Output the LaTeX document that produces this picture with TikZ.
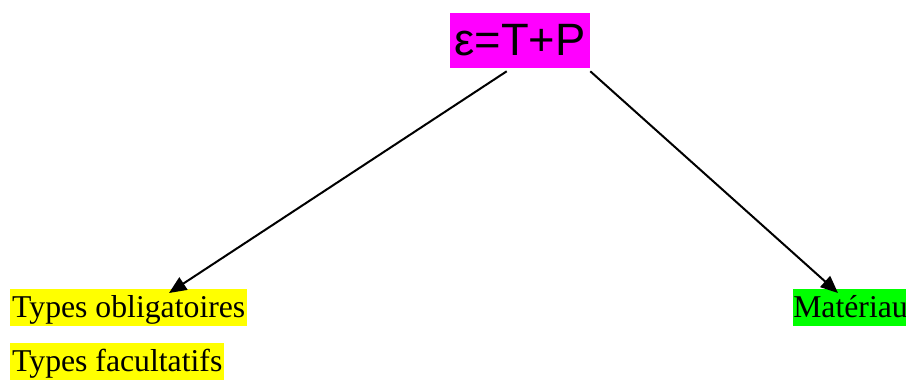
\documentclass[tikz,border=0pt]{standalone}
\usepackage{fontspec}
\setmainfont{Liberation Serif}
\newfontfamily\formulafont{Liberation Sans}
\usetikzlibrary{arrows.meta,calc}

\definecolor{hlmagenta}{RGB}{255,0,255}
\definecolor{hlyellow}{RGB}{255,255,0}
\definecolor{hlgreen}{RGB}{0,255,0}

\tikzset{
  formula/.style={fill=hlmagenta, inner sep=0pt, minimum width=140*0.75pt,
    text height=31.5pt, text depth=9.75pt,
    font=\formulafont\fontsize{34}{40}\selectfont},
  label box/.style={inner sep=0pt, text height=21pt, text depth=6.75pt,
    font=\fontsize{23.8}{28}\selectfont},
  link/.style={line width=1.5pt, -{Triangle[length=13pt,width=11pt]}}
}

\begin{document}
\begin{tikzpicture}[x=0.75pt, y=-0.75pt]
  \useasboundingbox (0,0) rectangle (906,379);

  % root formula
  \node[formula] (top) at (520,40.5) {ε=T+P};

  % leaves
  \node[label box, fill=hlyellow, minimum width=237*0.75pt, anchor=north west] (obl) at (10,289) {Types obligatoires};
  \node[label box, fill=hlyellow, minimum width=214*0.75pt, anchor=north west] (fac) at (10,343) {Types facultatifs};
  \node[label box, fill=hlgreen, minimum width=112*0.75pt, anchor=north west] (mat) at (793,289) {Matériau};

  % connectors
  \draw[link] ($(top.south west)+(57,3)$) -- ($(obl.north west)+(159,4)$);
  \draw[link] ($(top.south east)+(0,3)$) -- ($(mat.north west)+(45,4)$);
\end{tikzpicture}
\end{document}
